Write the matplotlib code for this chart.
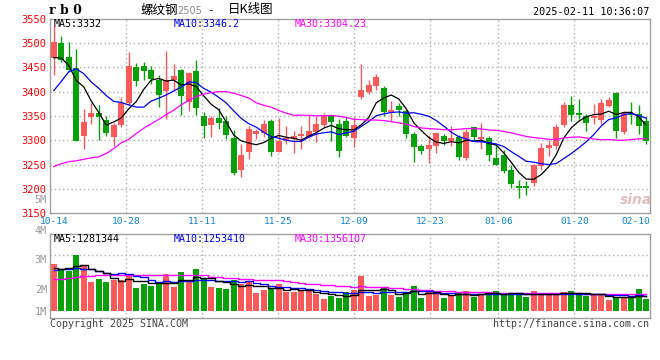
import numpy as np
import pandas as pd
import matplotlib
matplotlib.use('Agg')
import matplotlib.pyplot as plt
from matplotlib.transforms import blended_transform_factory

# ================================ Données ================================

opens = [3469, 3501, 3471, 3449, 3309, 3348, 3357, 3342, 3306, 3331,
         3377, 3450, 3452, 3445, 3425, 3401, 3423, 3445, 3379, 3443,
         3349, 3331, 3345, 3340, 3304, 3238, 3275, 3312, 3316, 3339,
         3276, 3299, 3302, 3308, 3307, 3317, 3331, 3351, 3333, 3340,
         3304, 3389, 3400, 3411, 3407, 3358, 3370, 3360, 3313, 3288,
         3282, 3289, 3308, 3298, 3307, 3264, 3328, 3302, 3305, 3264,
         3270, 3239, 3206, 3206, 3212, 3248, 3285, 3289, 3331, 3372,
         3356, 3349, 3345, 3341, 3370, 3397, 3317, 3355, 3355, 3339]
highs = [3535, 3514, 3503, 3488, 3365, 3377, 3372, 3350, 3336, 3390,
         3481, 3459, 3461, 3452, 3434, 3484, 3457, 3447, 3440, 3466,
         3358, 3349, 3366, 3350, 3321, 3292, 3330, 3324, 3341, 3343,
         3345, 3330, 3319, 3329, 3353, 3349, 3356, 3352, 3343, 3348,
         3348, 3457, 3423, 3437, 3411, 3380, 3377, 3365, 3317, 3293,
         3310, 3317, 3314, 3329, 3310, 3324, 3328, 3336, 3309, 3293,
         3280, 3249, 3218, 3217, 3252, 3295, 3300, 3334, 3379, 3392,
         3385, 3355, 3375, 3385, 3389, 3399, 3360, 3379, 3373, 3348]
lows = [3435, 3460, 3440, 3298, 3283, 3334, 3300, 3308, 3289, 3328,
        3372, 3411, 3423, 3416, 3368, 3344, 3402, 3353, 3361, 3353,
        3305, 3307, 3324, 3302, 3228, 3225, 3262, 3302, 3307, 3268,
        3276, 3293, 3273, 3283, 3304, 3297, 3328, 3299, 3266, 3307,
        3287, 3385, 3396, 3403, 3351, 3339, 3351, 3304, 3256, 3272,
        3254, 3274, 3290, 3289, 3259, 3259, 3300, 3282, 3257, 3250,
        3232, 3203, 3182, 3188, 3207, 3240, 3268, 3283, 3328, 3339,
        3343, 3319, 3334, 3334, 3368, 3305, 3314, 3334, 3312, 3293]
closes = [3503, 3466, 3445, 3299, 3337, 3357, 3348, 3316, 3331, 3377,
          3452, 3422, 3442, 3426, 3394, 3425, 3432, 3391, 3438, 3366,
          3330, 3345, 3336, 3311, 3232, 3270, 3323, 3319, 3333, 3276,
          3299, 3304, 3309, 3313, 3319, 3333, 3351, 3338, 3278, 3309,
          3331, 3403, 3413, 3430, 3358, 3362, 3362, 3312, 3287, 3278,
          3290, 3315, 3298, 3305, 3266, 3317, 3307, 3307, 3270, 3250,
          3237, 3210, 3203, 3201, 3249, 3285, 3290, 3328, 3372, 3353,
          3353, 3336, 3351, 3377, 3382, 3319, 3357, 3353, 3329, 3298]
volumes = [3948000, 3528000, 3385000, 4704000, 3755000, 2436000, 2688000, 2436000, 2629000, 2604000,
           2965000, 1932000, 2268000, 2100000, 2327000, 3108000, 2016000, 3276000, 2411000, 3528000,
           2688000, 2041000, 1957000, 1848000, 2604000, 2243000, 2411000, 1512000, 1764000, 1823000,
           2268000, 1621000, 1621000, 1680000, 1680000, 1453000, 1033000, 1285000, 1092000, 1596000,
           1764000, 2940000, 1260000, 1344000, 2016000, 1344000, 1176000, 1596000, 2100000, 1092000,
           1596000, 1428000, 1092000, 1344000, 1512000, 1680000, 1176000, 1428000, 1596000, 1680000,
           1344000, 1344000, 1512000, 1176000, 1680000, 1344000, 1344000, 1512000, 1596000, 1680000,
           1344000, 1260000, 1344000, 1344000, 924000, 1176000, 1176000, 1176000, 1848000, 1008000]

# début des moyennes mobiles (historique hors fenêtre)
ma5_debut = [3470, 3469, 3454, 3423]
ma10_debut = [3402, 3421, 3441, 3447, 3437, 3420, 3407, 3392, 3380]
ma30_debut = [3246, 3252, 3256, 3258, 3261, 3264, 3266, 3273, 3283, 3295,
              3302, 3314, 3325, 3334, 3343, 3353, 3362, 3373, 3382, 3390,
              3395, 3398, 3400, 3400, 3397, 3392, 3387, 3377, 3372]
vma5_debut = [3587000, 3528000, 3637000, 3755000]
vma10_debut = [3444000, 3503000, 3553000, 3587000, 3553000, 3503000, 3360000, 3217000, 3108000]
vma30_debut = [2663000, 2688000, 2747000, 2831000, 2940000, 2965000, 2996000, 2996000, 2996000, 2996000,
               2996000, 2996000, 2996000, 2996000, 2996000, 2996000, 2996000, 2996000, 2996000, 2996000,
               2996000, 2856000, 2831000, 2797000, 2747000, 2713000, 2688000, 2629000, 2579000]

ma_prix = ['MA5:3332', 'MA10:3346.2', 'MA30:3304.23']
ma_volume = ['MA5:1281344', 'MA10:1253410', 'MA30:1356107']

dates_idx = [0, 10, 20, 30, 40, 50, 59, 69, 78]
dates_labels = ['10-14', '10-28', '11-11', '11-25', '12-09', '12-23', '01-06', '01-20', '02-10']
prix_ticks = [3150, 3200, 3250, 3300, 3350, 3400, 3450, 3500, 3550]
volume_labels = ['5M', '4M', '3M', '2M', '1M']

# ================================ Style ================================

ROUGE = '#fa5a5a'
VERT = '#0aa00a'
GRILLE = '#b0b0b0'
BORD = '#a0a0a0'
MONO = 'DejaVu Sans Mono'
W, H = 660, 360


def moyenne_mobile(valeurs, n, debut):
    s = pd.Series(valeurs, dtype=float).rolling(n).mean()
    s.iloc[:len(debut)] = debut
    return s.values


def fx(px):
    return px / W


def fy(py):
    return 1 - py / H


o = np.array(opens, dtype=float)
c = np.array(closes, dtype=float)
x = np.arange(len(c))
hausse = c >= o
couleurs = np.where(hausse, ROUGE, VERT)

fig = plt.figure(figsize=(6.6, 3.6), dpi=100)
fig.patch.set_facecolor('white')

ax = fig.add_axes([fx(50), fy(213.3), fx(600), (213.3 - 18.7) / H])
axv = fig.add_axes([fx(50), fy(318), fx(600), (318 - 234.3) / H])

# position des lignes verticales (pas de la grille de Sina un peu plus large que celui des bougies)
pas_grille = 7.6 / 7.5
grille_x = [-0.5 + i * pas_grille for i in dates_idx]

for a in (ax, axv):
    a.set_xlim(-0.5, len(c) - 0.5)
    a.set_xticks([])
    a.tick_params(length=0)
    for sp in a.spines.values():
        sp.set_color(BORD)
        sp.set_linewidth(1)
    for gx in grille_x[1:-1]:
        a.axvline(gx, color=GRILLE, lw=1, ls=(0, (1, 2)), zorder=0)

# ---- bougies ----
ax.set_ylim(3150, 3550)
for p in prix_ticks[1:-1]:
    ax.axhline(p, color=GRILLE, lw=1, ls=(0, (1, 2)), zorder=0)
ax.vlines(x, lows, highs, colors=couleurs, lw=1, zorder=2)
corps = np.maximum(np.abs(c - o), 1.5)
ax.bar(x, corps, bottom=np.minimum(o, c), width=0.76, color=couleurs, lw=0, zorder=3)

ma5 = moyenne_mobile(closes, 5, ma5_debut)
ma10 = moyenne_mobile(closes, 10, ma10_debut)
ma30 = moyenne_mobile(closes, 30, ma30_debut)
ax.plot(x, ma5, color='black', lw=0.9, zorder=4)
ax.plot(x, ma10, color='#0000ff', lw=0.9, zorder=4)
ax.plot(x, ma30, color='#ff00ff', lw=0.9, zorder=4)

ax.set_yticks(prix_ticks)
ax.set_yticklabels([str(p) for p in prix_ticks], color='#ff0000', family=MONO, fontsize=7.5)
ax.tick_params(axis='y', pad=2.5)

# ---- volume ----
vpx = 84000  # volume par pixel
axv.set_ylim(-7 * vpx, 76.7 * vpx)
for gy in (56 * vpx, 36 * vpx):
    axv.axhline(gy, color=GRILLE, lw=1, ls=(0, (1, 2)), zorder=0)
axv.set_yticks([])
axv.bar(x, volumes, width=0.8, color=couleurs, lw=0, zorder=2)
vma5 = moyenne_mobile(volumes, 5, vma5_debut)
vma10 = moyenne_mobile(volumes, 10, vma10_debut)
vma30 = moyenne_mobile(volumes, 30, vma30_debut)
axv.step(x, vma30, where='mid', color='#ff00ff', lw=1, zorder=3)
axv.step(x, vma10, where='mid', color='#0000ff', lw=1, zorder=3)
axv.step(x, vma5, where='mid', color='black', lw=1, zorder=3)

# ---- dates ----
tr = blended_transform_factory(ax.transData, ax.transAxes)
y_dates = -8.2 / (213.3 - 18.7)
for gx, lab in zip(grille_x[:-1], dates_labels[:-1]):
    ax.text(gx + (0.6 if gx < 0 else 0), y_dates, lab, transform=tr, ha='center', va='center',
            color='#0b84d8', family=MONO, fontsize=6.8)
ax.text(len(c) - 0.5, y_dates, dates_labels[-1], transform=tr, ha='right', va='center',
        color='#0b84d8', family=MONO, fontsize=6.8)

# ---- textes ----
for txt, px, col in zip(ma_prix, [54, 174, 295], ['black', '#0000ff', '#ff00ff']):
    fig.text(fx(px), fy(24), txt, color=col, family=MONO, fontsize=7.2, va='center')
for txt, px, col in zip(ma_volume, [54, 174, 295], ['black', '#0000ff', '#ff00ff']):
    fig.text(fx(px), fy(239), txt, color=col, family=MONO, fontsize=7.2, va='center')

for lab, py in zip(volume_labels, [200, 231, 260, 290, 312]):
    fig.text(fx(47), fy(py), lab, color='#999999', family=MONO, fontsize=7.3,
             ha='right', va='center')

fig.text(fx(49), fy(11), 'r b 0', family='DejaVu Serif', fontweight='bold', fontsize=9,
         va='center')
cjk = ['Noto Sans CJK SC', 'DejaVu Sans']
fig.text(fx(140), fy(10), '螺纹钢', family=cjk, fontsize=9, va='center')
fig.text(fx(177), fy(10.5), '2505', family='DejaVu Sans', color='#888888', fontsize=7, va='center')
fig.text(fx(210), fy(10), '-', family=MONO, fontsize=8, va='center', ha='center')
fig.text(fx(228), fy(10), '日K线图', family=cjk, fontsize=9, va='center')
fig.text(fx(649), fy(12), '2025-02-11 10:36:07', family=MONO, fontsize=7.3,
         ha='right', va='center')

fig.text(fx(50), fy(324), 'Copyright 2025 SINA.COM', family=MONO, fontsize=7.2,
         color='#444444', va='center')
fig.text(fx(649), fy(324), 'http://finance.sina.com.cn', family=MONO, fontsize=7.2,
         color='#444444', va='center', ha='right')

fig.text(fx(636), fy(200), 'sina', family='DejaVu Sans', fontstyle='italic', fontweight='bold',
         fontsize=10, color='#d9b0b0', ha='center', va='center', alpha=0.8)

fig.savefig('out.png', dpi=100)
